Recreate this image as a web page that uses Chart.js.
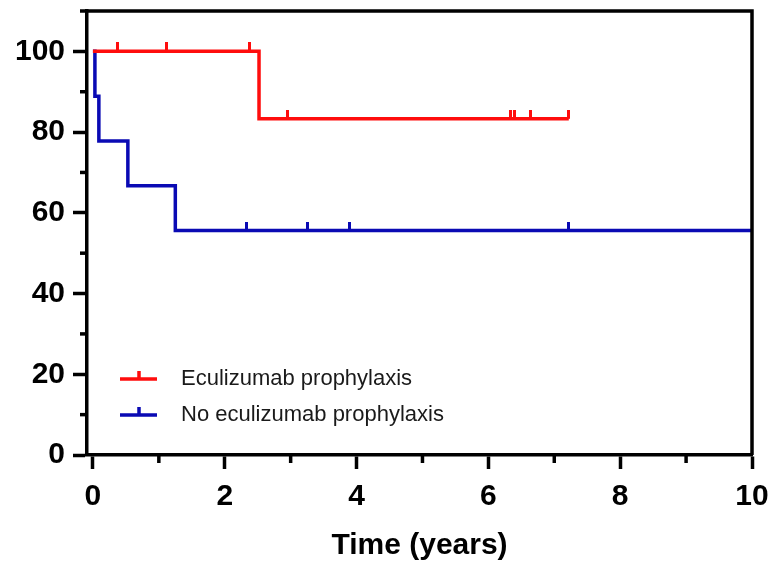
<!DOCTYPE html>
<html>
<head>
<meta charset="utf-8">
<script src="https://cdn.jsdelivr.net/npm/chart.js@4.4.0/dist/chart.umd.min.js"></script>
<style>
  html, body { margin: 0; padding: 0; background: #fff; }
  #wrap { width: 772px; height: 562px; }
</style>
</head>
<body>
<div id="wrap"><canvas id="myChart" width="772" height="562"></canvas></div>
<script>
// Kaplan-Meier data (time in years, survival in %)
const ecuLabel = 'Eculizumab prophylaxis';
const ecuTime = [0, 0.37, 1.12, 2.37, 2.52, 2.95, 6.33, 6.40, 6.64, 7.22];
const ecuSurv = [100, 100, 100, 100, 83.3, 83.3, 83.3, 83.3, 83.3, 83.3];
const ecuCensored = [0, 1, 1, 1, 0, 1, 1, 1, 1, 1];

const noLabel = 'No eculizumab prophylaxis';
const noTime = [0, 0.03, 0.09, 0.53, 1.25, 2.33, 3.25, 3.89, 7.21, 10];
const noSurv = [100, 88.9, 77.8, 66.7, 55.6, 55.6, 55.6, 55.6, 55.6, 55.6];
const noCensored = [0, 0, 0, 0, 0, 1, 1, 1, 1, 0];

const xTicks = [0, 1, 2, 3, 4, 5, 6, 7, 8, 9, 10];
const yMinorTicks = [10, 30, 50, 70, 90, 110];

const RED = '#ff0d0d';
const BLUE = '#0a0ab4';
const FONT = "'Liberation Sans', Arial, sans-serif";

// small vertical tick drawn above the curve for censored subjects
function censorMark(color) {
  const c = document.createElement('canvas');
  c.width = 3;
  c.height = 18;
  const g = c.getContext('2d');
  g.fillStyle = color;
  g.fillRect(0, 0, 3, 9);
  return c;
}

function toPoints(t, s) {
  return t.map((v, i) => ({ x: v, y: s[i] }));
}

/**
 * minor ticks, frame and legend inside the plot
 */
const extras = {
  id: 'extras',
  afterDraw(chart) {
    const ctx = chart.ctx;
    const a = chart.chartArea;
    const xs = chart.scales.x;
    const ys = chart.scales.y;
    ctx.save();
    ctx.strokeStyle = '#000';
    ctx.lineWidth = 3.5;
    ctx.lineCap = 'butt';
    // minor ticks
    yMinorTicks.forEach(v => {
      const y = ys.getPixelForValue(v);
      ctx.beginPath();
      ctx.moveTo(a.left - 7, y);
      ctx.lineTo(a.left, y);
      ctx.stroke();
    });
    xTicks.filter(v => v % 2 === 1).forEach(v => {
      const x = xs.getPixelForValue(v);
      ctx.beginPath();
      ctx.moveTo(x, a.bottom);
      ctx.lineTo(x, a.bottom + 8);
      ctx.stroke();
    });
    // frame top and right
    const yTop = ys.getPixelForValue(110);
    ctx.beginPath();
    ctx.moveTo(a.left, yTop);
    ctx.lineTo(a.right, yTop);
    ctx.lineTo(a.right, a.bottom);
    ctx.stroke();

    // legend
    const rows = [a.bottom - 76, a.bottom - 40];
    chart.data.datasets.forEach((ds, i) => {
      const y = rows[i];
      const x0 = a.left + 33;
      ctx.strokeStyle = ds.borderColor;
      ctx.lineWidth = 3.5;
      ctx.beginPath();
      ctx.moveTo(x0, y);
      ctx.lineTo(x0 + 37, y);
      ctx.moveTo(x0 + 19, y);
      ctx.lineTo(x0 + 19, y - 8);
      ctx.stroke();
      ctx.fillStyle = '#1a1a1a';
      ctx.font = '22px ' + FONT;
      ctx.textBaseline = 'middle';
      ctx.textAlign = 'left';
      ctx.fillText(ds.label, x0 + 61, y);
    });
    ctx.restore();
  }
};

const data = {
  datasets: [
    {
      label: ecuLabel,
      data: toPoints(ecuTime, ecuSurv),
      borderColor: RED,
      backgroundColor: RED,
      borderWidth: 3.5,
      stepped: true,
      fill: false,
      pointStyle: censorMark(RED),
      pointRadius: ecuCensored.map(c => (c ? 4 : 0)),
      pointHoverRadius: 0,
    },
    {
      label: noLabel,
      data: toPoints(noTime, noSurv),
      borderColor: BLUE,
      backgroundColor: BLUE,
      borderWidth: 3.5,
      stepped: true,
      fill: false,
      pointStyle: censorMark(BLUE),
      pointRadius: noCensored.map(c => (c ? 4 : 0)),
      pointHoverRadius: 0,
    },
  ],
};

const config = {
  type: 'line',
  data: data,
  options: {
    responsive: false,
    animation: false,
    events: [],
    layout: { padding: { left: 0, right: 20, top: 11, bottom: 0 } },
    plugins: { legend: { display: false }, tooltip: { enabled: false } },
    scales: {
      x: {
        type: 'linear',
        min: -0.09,
        max: 10,
        afterBuildTicks: scale => {
          scale.ticks = xTicks.map(v => ({ value: v }));
        },
        afterFit: scale => {
          scale.height = 107;
          scale.paddingLeft = 0;
          scale.paddingRight = 0;
        },
        border: { color: '#000', width: 3.5 },
        grid: {
          drawOnChartArea: false,
          tickLength: 14,
          tickWidth: 3.5,
          tickColor: c => (c.tick && c.tick.value % 2 === 0 ? '#000' : 'rgba(0,0,0,0)'),
        },
        ticks: {
          autoSkip: false,
          maxRotation: 0,
          padding: 10,
          color: '#000',
          font: { family: FONT, size: 30, weight: 'bold' },
          callback: v => (v % 2 === 0 ? v : ''),
        },
        title: {
          display: true,
          text: 'Time (years)',
          color: '#000',
          padding: { top: 0, bottom: 0 },
          font: { family: FONT, size: 30, weight: 'bold', lineHeight: 1.1 },
        },
      },
      y: {
        min: 0,
        max: 110,
        afterFit: scale => {
          scale.width = 87;
          scale.paddingTop = 0;
          scale.paddingBottom = 0;
        },
        border: { color: '#000', width: 3.5 },
        grid: {
          drawOnChartArea: false,
          tickLength: 14,
          tickWidth: 3.5,
          tickColor: c => (c.tick && c.tick.value % 20 === 0 && c.tick.value <= 100 ? '#000' : 'rgba(0,0,0,0)'),
        },
        ticks: {
          stepSize: 10,
          padding: 8,
          color: '#000',
          font: { family: FONT, size: 30, weight: 'bold' },
          callback: v => (v % 20 === 0 && v <= 100 ? v : ''),
        },
      },
    },
  },
  plugins: [extras],
};

const myChart = new Chart(document.getElementById('myChart'), config);
</script>
</body>
</html>
